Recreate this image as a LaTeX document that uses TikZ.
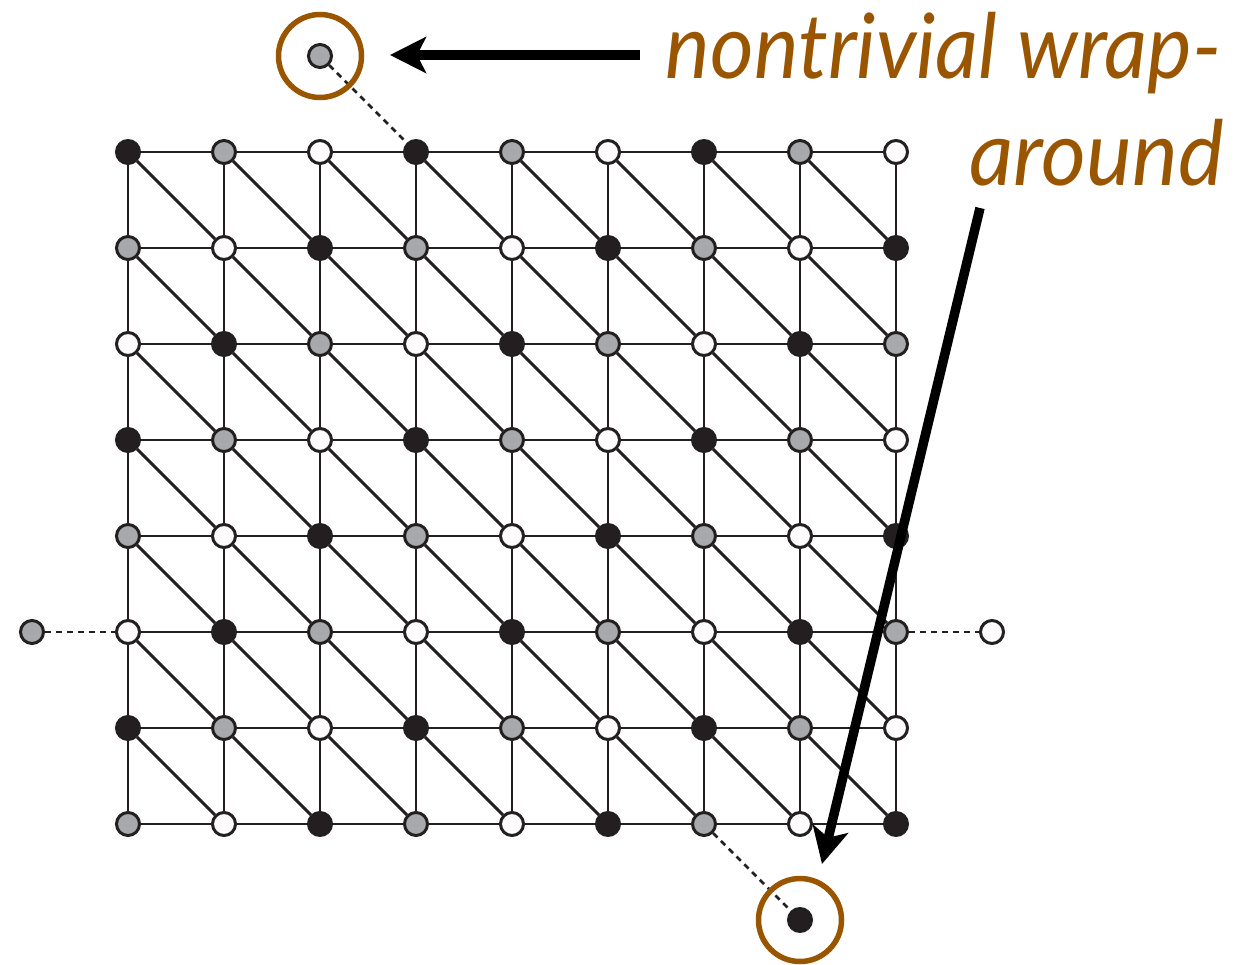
\documentclass[tikz,border=0pt]{standalone}
\usepackage{fontspec}
\newfontfamily\labfont{Lato}
\usetikzlibrary{arrows.meta}
\definecolor{ink}{RGB}{35,31,32}
\definecolor{dotgray}{RGB}{167,169,172}
\definecolor{wrapor}{RGB}{153,85,0}
\tikzset{
 vtx/.style={circle, draw=ink, line width=3pt, minimum size=23pt, inner sep=0pt},
 edge/.style={draw=ink, line width=2.9pt},
 wrapedge/.style={draw=ink, line width=2.6pt, dash pattern=on 6pt off 5pt},
 ring/.style={circle, draw=wrapor, line width=5.5pt, minimum size=83pt, inner sep=0pt},
 pointer/.style={draw=black, line width=9.5pt, -{Stealth[length=36pt,width=36pt,inset=9pt]}},
 lab/.style={text=wrapor, font=\labfont\itshape\fontsize{90}{107}\selectfont, inner sep=0pt}
}
\begin{document}
\begin{tikzpicture}[x=1pt,y=-1pt]
\useasboundingbox (0,0) rectangle (1258,964);
% vertices
\foreach \c in {0,...,8} \foreach \r in {0,...,7} {
  \pgfmathtruncatemacro\k{mod(\c+\r,3)}
  \ifcase\k \def\col{ink}\or \def\col{dotgray}\else \def\col{white}\fi
  \node[vtx, fill=\col] (n-\c-\r) at ({128+96*\c},{152+96*\r}) {};
}
% edges
\foreach \c in {0,...,8} \foreach \r in {0,...,7} {
  \pgfmathtruncatemacro\cn{\c+1}
  \pgfmathtruncatemacro\rn{\r+1}
  \ifnum\c<8 \draw[edge] (n-\c-\r) -- (n-\cn-\r); \fi
  \ifnum\r<7 \draw[edge] (n-\c-\r) -- (n-\c-\rn); \fi
  \ifnum\c<8 \ifnum\r<7 \draw[edge] (n-\c-\r) -- (n-\cn-\rn); \fi\fi
}
% wrap-around vertices
\node[vtx, fill=dotgray] (tw) at (320,56) {};
\node[vtx, fill=ink] (bw) at (800,920) {};
\node[vtx, fill=dotgray] (lw) at (32,632) {};
\node[vtx, fill=white] (rw) at (992,632) {};
\draw[wrapedge] (tw) -- (n-3-0);
\draw[wrapedge] (n-6-7) -- (bw);
\draw[wrapedge] (lw) -- (n-0-5);
\draw[wrapedge] (n-8-5) -- (rw);
\node[ring] (tr) at (tw) {};
\node[ring] (br) at (bw) {};
% labels
\node[lab, anchor=base east] (l1) at (1222,78) {\scalebox{0.935}[1]{nontrivial wrap-}};
\node[lab, anchor=base east] (l2) at (1224,185) {\scalebox{0.96}[1]{around}};
% pointers
\coordinate (p1) at (640,55);
\coordinate (p1e) at (390,55);
\coordinate (p2) at (980,208);
\coordinate (p2e) at (822,864);
\draw[pointer] (p1) -- (p1e);
\draw[pointer] (p2) -- (p2e);
\end{tikzpicture}
\end{document}
